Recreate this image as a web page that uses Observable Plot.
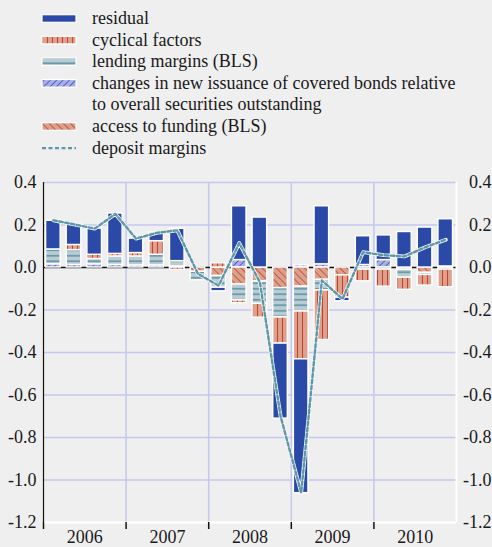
<!DOCTYPE html>
<html><head><meta charset="utf-8">
<script src="https://cdn.jsdelivr.net/npm/d3@7"></script>
<script src="https://cdn.jsdelivr.net/npm/@observablehq/plot@0.6"></script>
<style>
html,body{margin:0;padding:0;background:#efefef;}
body{width:492px;height:547px;overflow:hidden;font-family:"Liberation Serif","Times New Roman",serif;}
svg{display:block}
</style></head><body>
<svg width="0" height="0" style="position:absolute">
<defs>
<pattern id="p-cyc" patternUnits="userSpaceOnUse" width="5" height="10">
 <rect width="5" height="10" fill="#dea18e"/>
 <line x1="2.5" y1="0" x2="2.5" y2="10" stroke="#c4452f" stroke-width="1.1"/>
</pattern>
<pattern id="p-lend" patternUnits="userSpaceOnUse" width="10" height="5.5">
 <rect width="10" height="5.5" fill="#b9cbd3"/>
 <line x1="0" y1="2.75" x2="10" y2="2.75" stroke="#5a91a2" stroke-width="1.5"/>
</pattern>
<pattern id="p-cov" patternUnits="userSpaceOnUse" width="4.5" height="10" patternTransform="rotate(45)">
 <rect width="4.5" height="10" fill="#aab0e4"/>
 <line x1="2.25" y1="0" x2="2.25" y2="10" stroke="#4d5fc4" stroke-width="1"/>
</pattern>
<pattern id="p-acc" patternUnits="userSpaceOnUse" width="5" height="10" patternTransform="rotate(-45)">
 <rect width="5" height="10" fill="#dca18d"/>
 <line x1="2.5" y1="0" x2="2.5" y2="10" stroke="#c25a44" stroke-width="1"/>
</pattern>
</defs></svg>
<svg id="legend" width="492" height="165"></svg>
<div id="chart"></div>
<script>
// ---- data ----
const years = ["2006", "2007", "2008", "2009", "2010"];
const quarters = ["2006Q1","2006Q2","2006Q3","2006Q4","2007Q1","2007Q2","2007Q3","2007Q4",
  "2008Q1","2008Q2","2008Q3","2008Q4","2009Q1","2009Q2","2009Q3","2009Q4",
  "2010Q1","2010Q2","2010Q3","2010Q4"];
const residual = [0.135,0.097,0.123,0.19,0.068,0.04,0.152,0,-0.017,0.253,0.235,-0.353,-0.63,0.273,-0.017,0.135,0.116,0.167,0.188,0.222];
const cyclical = [0,0.024,0.02,0.012,0.016,0.064,-0.012,0,0.02,-0.013,-0.065,-0.123,-0.225,-0.233,-0.105,-0.055,-0.08,-0.057,-0.05,-0.083];
const lending  = [0.07,0.07,0.025,0.04,0.042,0.05,0.025,-0.04,-0.055,-0.075,-0.105,-0.138,-0.117,-0.05,0,-0.01,-0.01,-0.038,-0.01,0.005];
const covered  = [0.015,0.012,0.015,0.012,0.01,0.01,0.005,0,0,0.035,0,0,0.01,0.015,0,0.012,0.035,0,0,0];
const access   = [0,0,0,0,0,0,0,-0.02,-0.04,-0.08,-0.066,-0.097,-0.09,-0.058,-0.037,0,0,-0.01,-0.025,-0.01];
const deposit  = [0.222,0.203,0.183,0.252,0.136,0.163,0.175,-0.03,-0.085,0.115,-0.07,-0.70,-1.06,-0.061,-0.148,0.072,0.058,0.052,0.095,0.131];
const yTicks = [-1.2,-1.0,-0.8,-0.6,-0.4,-0.2,0,0.2,0.4];
const legendLabels = ["residual","cyclical factors","lending margins (BLS)",
  "changes in new issuance of covered bonds relative\nto overall securities outstanding",
  "access to funding (BLS)","deposit margins"];

// ---- build tables ----
const seriesKeys = ["covered","access","lending","cyclical","residual"];
const seriesVals = {covered, access, lending, cyclical, residual};
const fills = {covered:"url(#p-cov)", access:"url(#p-acc)", lending:"url(#p-lend)", cyclical:"url(#p-cyc)", residual:"#2b4aa7"};
const rows = [];
quarters.forEach((q, i) => {
  for (const s of seriesKeys) {
    const v = seriesVals[s][i];
    if (v !== 0) rows.push({t: i, q, s, v});
  }
});
const dep = deposit.map((v, i) => ({t: i + 0.48, v}));
const yearMid = years.map((y, i) => i * 4 + 2);
const yearBounds = years.map((y, i) => i * 4);
const fmt = d => d.toFixed(1);

// ---- legend ----
const leg = d3.select("#legend");
const legKeys = ["residual","cyclical","lending","covered","access","deposit"];
let base = 24;
legKeys.forEach((k, i) => {
  const lines = legendLabels[i].split("\n");
  const cy = base - 5.5;
  if (k === "deposit") {
    leg.append("line").attr("x1", 42).attr("x2", 76).attr("y1", cy).attr("y2", cy)
      .attr("stroke", "#5d97a8").attr("stroke-width", 2.2).attr("stroke-dasharray", "4,2.5");
  } else {
    leg.append("rect").attr("x", 42).attr("y", cy - 3.8).attr("width", 34).attr("height", 7.6)
      .attr("fill", fills[k]).attr("stroke", "white").attr("stroke-width", 1.2);
  }
  lines.forEach((ln, j) => {
    leg.append("text").attr("x", 92).attr("y", base + j * 21.6)
      .attr("font-family", "Liberation Serif, Times New Roman, serif").attr("font-size", 18)
      .attr("fill", "#1a1a1a").text(ln);
  });
  base += 21.6 * lines.length;
});

// ---- chart ----
const chart = Plot.plot({
  width: 492, height: 382,
  marginLeft: 43, marginRight: 36, marginTop: 17, marginBottom: 25,
  style: {background: "transparent", fontFamily: "Liberation Serif, Times New Roman, serif", fontSize: "18px", color: "#1a1a1a", overflow: "visible"},
  x: {domain: [0, 20], axis: null},
  y: {domain: [-1.2, 0.4], axis: null},
  color: {domain: seriesKeys, range: seriesKeys.map(k => fills[k])},
  marks: [
    Plot.ruleY(yTicks.filter(d => d !== 0 && d !== -1.2), {stroke: "#c4c8ee", strokeWidth: 1.5}),
    Plot.ruleX(yearBounds.filter(d => d > 0), {stroke: "#c4c8ee", strokeWidth: 1.5}),
    Plot.ruleY([0], {stroke: "#111", strokeWidth: 1.6}),
    Plot.rectY(rows, Plot.stackY({x: "t", y: "v", fill: "s", interval: 1, insetLeft: 2.6, insetRight: 3.5, stroke: "white", strokeWidth: 1.4})),
    Plot.line(dep, {x: "t", y: "v", stroke: "#f4f6f6", strokeWidth: 3.8}),
    Plot.line(dep, {x: "t", y: "v", stroke: "#5d97a8", strokeWidth: 2.4, strokeDasharray: "3.5,2.5"}),
    Plot.ruleY([-1.2], {stroke: "white", strokeWidth: 2.5}),
    Plot.ruleX([20], {stroke: "white", strokeWidth: 2}),
    Plot.ruleX([0], {stroke: "#111", strokeWidth: 1.2}),
    Plot.axisY({anchor: "left", ticks: yTicks, tickSize: 0, tickPadding: 7, tickFormat: fmt, fontSize: 18, label: null}),
    Plot.axisY({anchor: "right", ticks: yTicks, tickSize: 0, tickPadding: 35, textAnchor: "end", tickFormat: fmt, fontSize: 18, label: null}),
    Plot.axisX({ticks: yearMid, tickSize: 0, tickPadding: 8, tickFormat: d => years[(d - 2) / 4], fontSize: 18, label: null}),
    Plot.axisX({ticks: yearBounds, tickSize: 7, tickFormat: () => "", stroke: "#111", strokeWidth: 1.5, label: null})
  ]
});
document.getElementById("chart").appendChild(chart);
</script>
</body></html>
